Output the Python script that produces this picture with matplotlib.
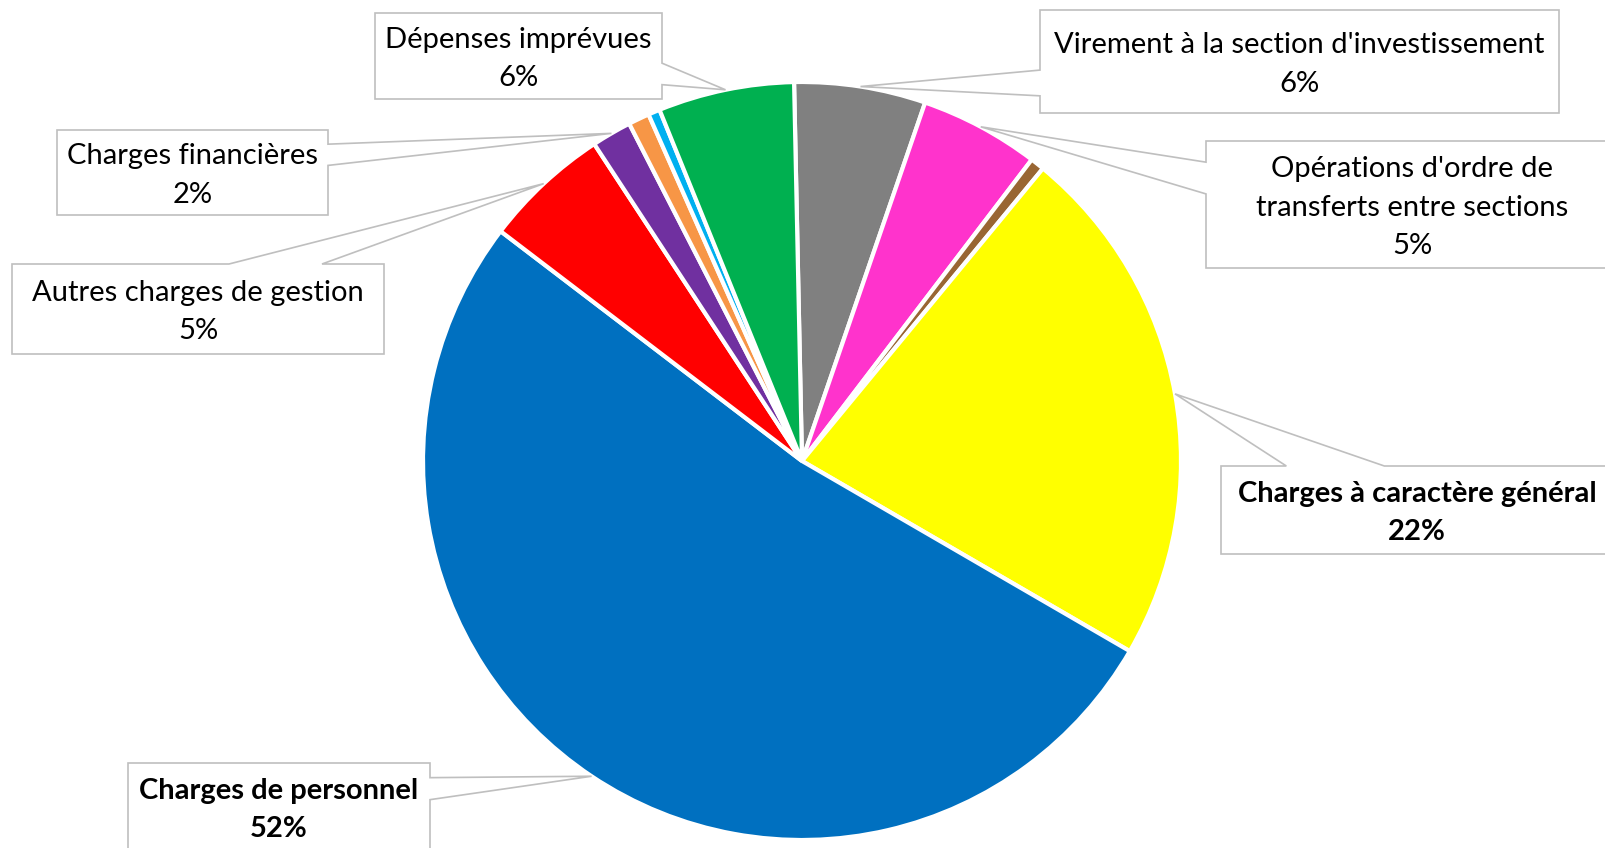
import numpy as np
import matplotlib.pyplot as plt
from matplotlib.patches import Polygon

plt.rcParams['font.family'] = ['Lato', 'DejaVu Sans']

# Répartition des dépenses de fonctionnement (en %), sens horaire depuis le haut
categories = ["Virement à la section d'investissement",
              "Opérations d'ordre de\ntransferts entre sections",
              "",
              "Charges à caractère général",
              "Charges de personnel",
              "Autres charges de gestion",
              "Charges financières",
              "",
              "",
              "Dépenses imprévues"]
values = [5.6, 5.1, 0.6, 22.4, 52.0, 5.4, 1.7, 0.9, 0.5, 5.8]
colors = ['#808080', '#FF33CC', '#996633', '#FFFF00', '#0070C0',
          '#FF0000', '#7030A0', '#F79646', '#00B0F0', '#00B050']
bold = [False, False, False, True, True, False, False, False, False, False]

# position des étiquettes (pixels, origine en haut à gauche) : x0, y0, x1, y1
boxes = {0: (1040, 10, 1559, 113),
         1: (1206, 141, 1618, 268),
         3: (1221, 466, 1613, 554),
         4: (128, 763, 430, 851),
         5: (12, 264, 384, 354),
         6: (57, 130, 328, 215),
         9: (375, 13, 662, 99)}

W, H = 1606, 848
cx, cy, R = 802, 461, 379

fig = plt.figure(figsize=(W / 100, H / 100), dpi=100)
ax = fig.add_axes([0, 0, 1, 1])
wedges, _ = ax.pie(values, colors=colors, startangle=91.2, counterclock=False,
                   center=(cx, H - cy), radius=R,
                   wedgeprops=dict(edgecolor='white', linewidth=3))
ax.set_xlim(0, W)
ax.set_ylim(0, H)
ax.axis('off')


def callout(box, tx, ty):
    x0, y0, x1, y1 = box
    w, h = x1 - x0, y1 - y0
    dx, dy = tx - (x0 + x1) / 2, ty - (y0 + y1) / 2
    tl, tr, br, bl = (x0, y0), (x1, y0), (x1, y1), (x0, y1)
    if abs(dx) * h > abs(dy) * w:
        ya, yb = (y0 + h * 2 / 12, y0 + h * 5 / 12) if dy < 0 else (y0 + h * 7 / 12, y0 + h * 10 / 12)
        if dx > 0:
            pts = [tl, tr, (x1, ya), (tx, ty), (x1, yb), br, bl]
        else:
            pts = [tl, tr, br, bl, (x0, yb), (tx, ty), (x0, ya)]
    else:
        xa, xb = (x0 + w * 2 / 12, x0 + w * 5 / 12) if dx < 0 else (x0 + w * 7 / 12, x0 + w * 10 / 12)
        if dy < 0:
            pts = [tl, (xa, y0), (tx, ty), (xb, y0), tr, br, bl]
        else:
            pts = [tl, tr, br, (xb, y1), (tx, ty), (xa, y1), bl]
    return [(x, H - y) for x, y in pts]


total = sum(values)
for i, box in boxes.items():
    wd = wedges[i]
    a = np.deg2rad((wd.theta1 + wd.theta2) / 2)
    tx, ty = cx + R * np.cos(a), cy - R * np.sin(a)
    ax.add_patch(Polygon(callout(box, tx, ty), closed=True, facecolor='white',
                         edgecolor='#BFBFBF', linewidth=1.2, zorder=3))
    pct = round(values[i] / total * 100)
    ax.text((box[0] + box[2]) / 2, H - (box[1] + box[3]) / 2 - 3,
            f"{categories[i]}\n{pct}%", ha='center', va='center',
            fontsize=21, linespacing=1.6, zorder=4,
            fontweight='bold' if bold[i] else 'normal')

fig.savefig('out.png', dpi=100)
